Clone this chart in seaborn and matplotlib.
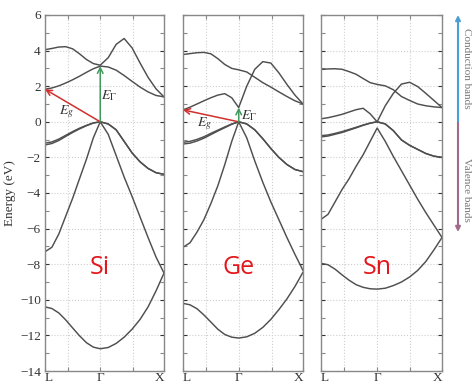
# Band structures of Si, Ge and Sn along L - Gamma - X

import matplotlib
matplotlib.use("Agg")
import matplotlib.pyplot as plt
from matplotlib.patches import FancyArrowPatch
import seaborn as sns
import pandas as pd

# k-path: L (0) -> Gamma (0.866) -> X (1.866)
k = [0, 0.108, 0.217, 0.325, 0.433, 0.541, 0.650, 0.758, 0.866,
     0.991, 1.116, 1.241, 1.366, 1.491, 1.616, 1.741, 1.866]
k_ticks = [0, 0.866, 1.866]
k_labels = ["L", "Γ", "X"]
k_minor = [0.36, 1.38]

# energies (eV), one list per band
si_bands = [
    [-10.4, -10.49, -10.74, -11.13, -11.58, -12.02, -12.41, -12.66, -12.75, -12.68, -12.45, -12.1, -11.65, -11.1, -10.4, -9.5, -8.5],
    [-7.3, -7.05, -6.3, -5.3, -4.3, -3.2, -2.1, -0.9, 0.0, -0.7, -1.9, -3.1, -4.2, -5.35, -6.5, -7.6, -8.5],
    [-1.3, -1.22, -1.05, -0.82, -0.6, -0.4, -0.22, -0.07, 0.0, -0.12, -0.45, -1.1, -1.75, -2.25, -2.62, -2.86, -2.95],
    [-1.2, -1.13, -0.97, -0.76, -0.55, -0.36, -0.2, -0.06, 0.0, -0.12, -0.45, -1.1, -1.75, -2.25, -2.62, -2.86, -2.95],
    [1.83, 1.9, 2.02, 2.18, 2.36, 2.56, 2.78, 2.98, 3.13, 3.08, 2.9, 2.6, 2.27, 1.95, 1.68, 1.48, 1.4],
    [4.05, 4.12, 4.2, 4.22, 4.1, 3.82, 3.5, 3.27, 3.18, 3.6, 4.35, 4.68, 4.15, 3.3, 2.5, 1.85, 1.4],
]
ge_bands = [
    [-10.2, -10.28, -10.5, -10.85, -11.25, -11.65, -11.95, -12.1, -12.15, -12.08, -11.88, -11.55, -11.1, -10.55, -9.95, -9.25, -8.45],
    [-7.05, -6.8, -6.2, -5.5, -4.6, -3.6, -2.4, -1.1, 0.0, -0.9, -2.2, -3.4, -4.5, -5.5, -6.5, -7.45, -8.35],
    [-1.25, -1.2, -1.08, -0.92, -0.72, -0.52, -0.33, -0.14, 0.0, -0.12, -0.45, -0.95, -1.5, -2.0, -2.4, -2.68, -2.8],
    [-1.15, -1.1, -0.99, -0.84, -0.65, -0.47, -0.29, -0.12, 0.0, -0.12, -0.45, -0.95, -1.5, -2.0, -2.4, -2.68, -2.8],
    [0.67, 0.82, 1.0, 1.18, 1.35, 1.5, 1.58, 1.35, 0.8, 2.0, 2.95, 3.38, 3.3, 2.75, 2.1, 1.5, 1.0],
    [3.78, 3.83, 3.88, 3.9, 3.82, 3.55, 3.22, 3.0, 2.92, 2.8, 2.5, 2.2, 1.95, 1.68, 1.42, 1.18, 1.0],
]
sn_bands = [
    [-7.95, -8.03, -8.28, -8.6, -8.9, -9.15, -9.3, -9.38, -9.4, -9.35, -9.2, -9.0, -8.72, -8.35, -7.85, -7.2, -6.5],
    [-5.48, -5.2, -4.5, -3.8, -3.2, -2.5, -1.85, -1.1, -0.35, -1.1, -1.95, -2.75, -3.55, -4.35, -5.1, -5.8, -6.5],
    [-0.85, -0.8, -0.7, -0.6, -0.47, -0.34, -0.2, -0.08, 0.0, -0.12, -0.5, -1.02, -1.32, -1.55, -1.78, -1.93, -2.0],
    [-0.78, -0.74, -0.65, -0.55, -0.43, -0.31, -0.18, -0.07, 0.0, -0.12, -0.5, -1.02, -1.32, -1.55, -1.78, -1.93, -2.0],
    [0.17, 0.23, 0.32, 0.42, 0.55, 0.68, 0.76, 0.45, 0.0, 0.9, 1.6, 2.12, 2.22, 1.98, 1.6, 1.2, 0.8],
    [2.94, 2.97, 2.98, 2.95, 2.82, 2.67, 2.43, 2.2, 2.1, 2.02, 1.8, 1.42, 1.2, 1.0, 0.9, 0.84, 0.8],
]
materials = ["Si", "Ge", "Sn"]

sns.set_style("ticks")
plt.rcParams["font.family"] = ["Liberation Serif", "DejaVu Serif"]
plt.rcParams["mathtext.fontset"] = "stix"

fig = plt.figure(figsize=(4.72, 3.87), dpi=100)
lefts = [45 / 472, 183 / 472, 321 / 472]
widths = [119 / 472, 120 / 472, 121 / 472]
bottom = 1 - 371 / 387
height = 356 / 387

red = "#d0302e"
green = "#3f9a5c"

for i, (name, bands) in enumerate(zip(materials, [si_bands, ge_bands, sn_bands])):
    ax = fig.add_axes([lefts[i], bottom, widths[i], height])
    rows = []
    for b, vals in enumerate(bands):
        for kk, e in zip(k, vals):
            rows.append({"k": kk, "E": e, "band": b})
    df = pd.DataFrame(rows)

    # dotted grid
    for yv in range(-12, 6, 2):
        ax.axhline(yv, color="#cfcfcf", ls=":", lw=0.8, zorder=0)
    for xv in [0.36, 0.866, 1.38]:
        ax.axvline(xv, color="#cfcfcf", ls=":", lw=0.8, zorder=0)

    sns.lineplot(data=df, x="k", y="E", units="band", estimator=None, sort=False,
                 color="#4f4f4f", lw=1.05, ax=ax)

    ax.set_xlim(0, 1.866)
    ax.set_ylim(-14, 6)
    ax.set_xticks(k_ticks)
    ax.set_xticklabels(k_labels, fontsize=9.5)
    ax.set_xticks(k_minor, minor=True)
    ax.set_yticks(range(-14, 7, 2))
    ax.set_yticks(range(-14, 7, 1), minor=True)
    ax.tick_params(which="both", direction="in", top=True, right=True,
                   length=3, width=0.8, color="#888888", pad=3)
    ax.tick_params(axis="y", labelsize=9.5, colors="#333333")
    ax.tick_params(axis="x", labelcolor="#333333", pad=1)
    tl = ax.get_xticklabels()
    tl[0].set_ha("left")
    tl[-1].set_ha("right")
    for s in ax.spines.values():
        s.set_color("#888888")
        s.set_linewidth(1.0)
    ax.set_xlabel("")
    if i == 0:
        ax.set_ylabel("Energy (eV)", fontsize=9.5, color="#333333", labelpad=3)
    else:
        ax.set_ylabel("")
        ax.tick_params(axis="y", labelleft=False)

    ax.text(0.866, -8.2, name, color="#e3161b", fontsize=18, ha="center", va="center",
            family=["Open Sans", "DejaVu Sans"])

    # gap arrows for Si and Ge
    if name in ("Si", "Ge"):
        cb = bands[4]
        ax.annotate("", xy=(k[0], cb[0]), xytext=(k[8], 0),
                    arrowprops=dict(arrowstyle="->", color=red, lw=1.1,
                                    shrinkA=0, shrinkB=0, mutation_scale=10))
        ax.annotate("", xy=(k[8], cb[8]), xytext=(k[8], 0),
                    arrowprops=dict(arrowstyle="->", color=green, lw=1.1,
                                    shrinkA=0, shrinkB=0, mutation_scale=10))
        if name == "Si":
            ax.text(0.345, 0.55, "$E_g$", fontsize=10, ha="center", va="center", color="#333333")
            ax.text(1.0, 1.45, r"$E_\Gamma$", fontsize=10, ha="center", va="center", color="#333333")
        else:
            ax.text(0.33, -0.1, "$E_g$", fontsize=10, ha="center", va="center", color="#333333")
            ax.text(1.03, 0.35, r"$E_\Gamma$", fontsize=10, ha="center", va="center", color="#333333")

# band-type arrow on the right
xa = 458 / 472
y0 = 1 - 123 / 387
fig.add_artist(FancyArrowPatch((xa, y0), (xa, 1 - 15 / 387), transform=fig.transFigure,
                               arrowstyle="-|>", mutation_scale=7, color="#4a9fd4", lw=1.5,
                               shrinkA=0, shrinkB=0))
fig.add_artist(FancyArrowPatch((xa, y0), (xa, 1 - 232 / 387), transform=fig.transFigure,
                               arrowstyle="-|>", mutation_scale=7, color="#a06a88", lw=1.5,
                               shrinkA=0, shrinkB=0))
fig.text(466 / 472, 1 - 68 / 387, "Conduction bands", rotation=-90, fontsize=8,
         color="#777777", ha="center", va="center")
fig.text(466 / 472, 1 - 190 / 387, "Valence bands", rotation=-90, fontsize=8,
         color="#777777", ha="center", va="center")

plt.savefig("out.png", dpi=100)
